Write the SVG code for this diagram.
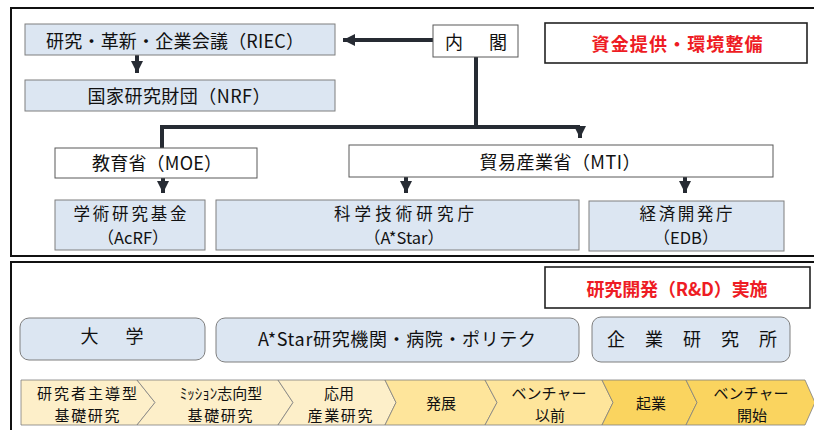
<svg xmlns="http://www.w3.org/2000/svg" width="814" height="430" viewBox="0 0 814 430">
<style>
text{font-family:"Noto Sans CJK JP","Noto Sans",sans-serif;font-size:18px;fill:#111;text-anchor:middle}
.red{fill:#ee1c24;font-weight:bold}
.sm{font-size:15px}
.md{font-size:16.5px}
.frame{fill:none;stroke:#111;stroke-width:2}
.bl{fill:#dce6f2;stroke:#7f7f7f;stroke-width:1}
.wh{fill:#fff;stroke:#595959;stroke-width:1}
.lab{fill:#fff;stroke:#222;stroke-width:1.6}
.rb{fill:#dce6f2;stroke:#7f7f7f;stroke-width:1}
.cv{stroke:#7f7f7f;stroke-width:0.8}
.c1{fill:#fdefc9}.c2{fill:#fee59b}.c3{fill:#fad45f}
.ln{fill:none;stroke:#262b33;stroke-width:4}
</style>
<defs>
<marker id="ah" markerWidth="4" markerHeight="4" refX="3" refY="2" orient="auto" markerUnits="strokeWidth">
<path d="M0,0.5 L3,2 L0,3.5 Z" fill="#262b33"/>
</marker>
</defs>
<rect width="814" height="430" fill="#fff"/>
<g id="frames">
<path class="frame" d="M820,8 H11 V256 H820"/>
<path class="frame" d="M820,262 H11 V432"/>
</g>
<g id="connectors">
<path class="ln" d="M433,40 H343" marker-end="url(#ah)"/>
<path class="ln" d="M137,55 V73" marker-end="url(#ah)"/>
<path class="ln" d="M476,57 V127 M160,127 H580 M162,125 V148"/>
<path class="ln" d="M580,127 V138" marker-end="url(#ah)"/>
<path class="ln" d="M163,178 V193" marker-end="url(#ah)"/>
<path class="ln" d="M406,177 V193" marker-end="url(#ah)"/>
<path class="ln" d="M685,177 V193" marker-end="url(#ah)"/>
</g>
<g id="riec"><rect class="bl" x="25" y="24" width="310" height="31"/><text x="175" y="48" textLength="258" lengthAdjust="spacing">研究・革新・企業会議（RIEC）</text></g>
<g id="nrf"><rect class="bl" x="25" y="80" width="310" height="31"/><text x="179" y="103" textLength="183" lengthAdjust="spacing">国家研究財団（NRF）</text></g>
<g id="naikaku"><rect class="wh" x="433" y="25" width="85" height="32"/><text x="476" y="49" textLength="62" lengthAdjust="spacing">内　閣</text></g>
<g id="label1"><rect class="lab" x="545" y="23" width="262" height="40"/><text class="red" x="677" y="51" textLength="171" lengthAdjust="spacing">資金提供・環境整備</text></g>
<g id="moe"><rect class="wh" x="55" y="148" width="202" height="30"/><text x="157" y="170" textLength="130" lengthAdjust="spacing">教育省（MOE）</text></g>
<g id="mti"><rect class="wh" x="349" y="145" width="424" height="32"/><text x="560" y="169" textLength="161" lengthAdjust="spacing">貿易産業省（MTI）</text></g>
<g id="acrf"><rect class="bl" x="55" y="200" width="150" height="50"/><text class="md" x="130" y="220" textLength="113" lengthAdjust="spacing">学術研究基金</text><text class="md" x="133" y="244">（AcRF）</text></g>
<g id="astar"><rect class="bl" x="216" y="200" width="363" height="50"/><text class="md" x="404" y="220" textLength="140" lengthAdjust="spacing">科学技術研究庁</text><text class="md" x="404" y="244">（A*Star）</text></g>
<g id="edb"><rect class="bl" x="589" y="201" width="195" height="50"/><text class="md" x="686" y="220" textLength="93" lengthAdjust="spacing">経済開発庁</text><text class="md" x="686" y="244">（EDB）</text></g>
<g id="label2"><rect class="lab" x="545" y="267" width="265" height="41"/><text class="red" x="677" y="296" textLength="181" lengthAdjust="spacing">研究開発（R&amp;D）実施</text></g>
<g id="univ"><rect class="rb" x="20" y="318" width="185" height="42" rx="9"/><text x="112" y="343" textLength="63" lengthAdjust="spacing">大　学</text></g>
<g id="astarinst"><rect class="rb" x="216" y="318" width="363" height="44" rx="9"/><text x="397" y="346" textLength="278" lengthAdjust="spacing">A*Star研究機関・病院・ポリテク</text></g>
<g id="corp"><rect class="rb" x="592" y="317" width="198" height="45" rx="9"/><text x="692" y="346" textLength="170" lengthAdjust="spacing">企　業　研　究　所</text></g>
<g id="chevrons">
<polygon class="cv c1" points="21,380 137,380 155,402.5 137,425 21,425"/>
<polygon class="cv c1" points="137,380 278,380 293,402.5 278,425 137,425 155,402.5"/>
<polygon class="cv c1" points="278,380 385,380 396,402.5 385,425 278,425 293,402.5"/>
<polygon class="cv c2" points="385,380 485,380 497,402.5 485,425 385,425 396,402.5"/>
<polygon class="cv c2" points="485,380 602,380 613,402.5 602,425 485,425 497,402.5"/>
<polygon class="cv c3" points="602,380 686,380 697,402.5 686,425 602,425 613,402.5"/>
<polygon class="cv c3" points="686,380 805,380 815,402.5 805,425 686,425 697,402.5"/>
<text class="sm" x="87" y="399" textLength="100" lengthAdjust="spacing">研究者主導型</text><text class="sm" x="87" y="421" textLength="65" lengthAdjust="spacing">基礎研究</text>
<text class="sm" x="221" y="399">ﾐｯｼｮﾝ志向型</text><text class="sm" x="220" y="421" textLength="65" lengthAdjust="spacing">基礎研究</text>
<text class="sm" x="339" y="399">応用</text><text class="sm" x="340" y="421" textLength="65" lengthAdjust="spacing">産業研究</text>
<text class="sm" x="441" y="409">発展</text>
<text class="sm" x="549" y="399">ベンチャー</text><text class="sm" x="550" y="421">以前</text>
<text class="sm" x="651" y="409">起業</text>
<text class="sm" x="751" y="399">ベンチャー</text><text class="sm" x="752" y="421">開始</text>
</g>
</svg>
